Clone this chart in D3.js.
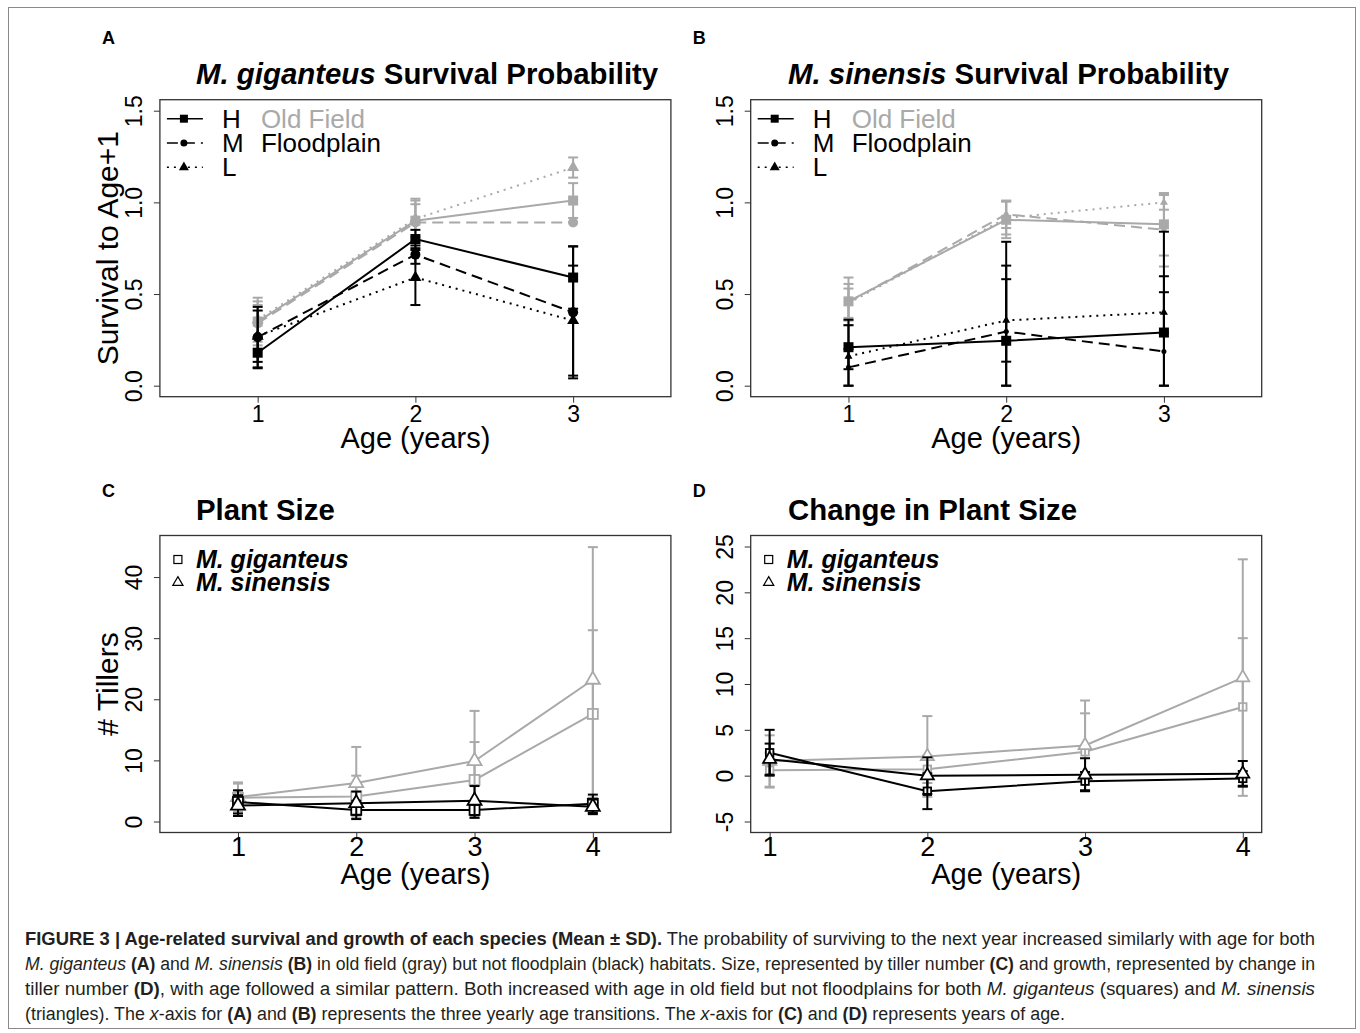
<!DOCTYPE html>
<html>
<head>
<meta charset="utf-8">
<script src="https://cdn.jsdelivr.net/npm/d3@7"></script>
<style>
  body { margin: 0; background: #fff; }
  svg text { font-family: "Liberation Sans", Arial, sans-serif; }
</style>
</head>
<body>
<svg id="fig" width="1360" height="1033"></svg>
<script>
// ---- data ----
const transitions = [1, 2, 3]          // panels A, B: yearly age transitions
const years = [1, 2, 3, 4]             // panels C, D: years of age
const densities = ["H", "M", "L"]

// A: M. giganteus survival, rows = H, M, L
const gigOldMean = [[0.35, 0.90, 1.01], [0.34, 0.89, 0.89], [0.36, 0.91, 1.19]]
const gigOldSd   = [[0.13, 0.12, 0.095], [0.10, 0.10, 0], [0.10, 0.10, 0.055]]
const gigFloodMean = [[0.18, 0.80, 0.59], [0.265, 0.715, 0.40], [0.27, 0.59, 0.355]]
const gigFloodSd   = [[0.085, 0.05, 0.17], [0.165, 0.05, 0.36], [0.14, 0.15, 0.30]]

// B: M. sinensis survival
const sinOldMean = [[0.46, 0.905, 0.88], [0.455, 0.935, 0.85], [0.45, 0.915, 1.0]]
const sinOldSd   = [[0.13, 0.10, 0.17], [0.10, 0.075, 0.20], [0.08, 0.09, 0.04]]
const sinFloodMean = [[0.21, 0.245, 0.29], [0.10, 0.295, 0.187], [0.16, 0.356, 0.40]]
const sinFloodSd   = [[0.12, 0.54, 0.55], [0.10, 0.36, 0.41], [0.20, 0.225, 0.11]]

// C: number of tillers
const tillGigOld = [3.9, 4.1, 6.8, 17.6], tillGigOldSd = [2.3, 3.4, 6.2, 13.7]
const tillSinOld = [4.0, 6.3, 9.9, 23.2], tillSinOldSd = [2.4, 5.9, 8.2, 21.7]
const tillGigFlood = [3.2, 1.9, 1.9, 2.9], tillGigFloodSd = [1.9, 1.5, 1.3, 1.5]
const tillSinFlood = [2.6, 3.0, 3.4, 2.4], tillSinFloodSd = [1.7, 1.9, 2.4, 1.2]

// D: change in number of tillers
const chgGigOld = [0.6, 0.7, 2.6, 7.5], chgGigOldSd = [1.9, 1.5, 4.2, 7.5]
const chgSinOld = [1.6, 2.1, 3.3, 10.7], chgSinOldSd = [2.8, 4.4, 4.9, 12.9]
const chgGigFlood = [2.5, -1.7, -0.6, -0.3], chgGigFloodSd = [2.5, 1.95, 1.0, 0.8]
const chgSinFlood = [1.8, 0.0, 0.1, 0.2], chgSinFloodSd = [1.7, 2.0, 1.8, 1.4]

const survTicks = [0, 0.5, 1, 1.5]
const tillTicks = [0, 10, 20, 30, 40]
const chgTicks = [-5, 0, 5, 10, 15, 20, 25]

const GRAY = "#a9a9a9", BLACK = "#000"
const dashFor = { H: null, M: "11,6", L: "2,5" }

const svg = d3.select("#fig")
svg.append("rect").attr("x", 8.5).attr("y", 7.5).attr("width", 1347).attr("height", 1021)
  .attr("fill", "none").attr("stroke", "#8a8a8a")

// R style 4% padding
const pad = (lo, hi) => [lo - 0.04 * (hi - lo), hi + 0.04 * (hi - lo)]

const W = 511, H = 297

function frame(p) {
  const x = d3.scaleLinear().domain(pad(...p.xlim)).range([p.left, p.left + W])
  const y = d3.scaleLinear().domain(pad(...p.ylim)).range([p.top + H, p.top])
  const g = svg.append("g")

  g.append("g").attr("transform", `translate(0,${p.top + H})`)
    .call(d3.axisBottom(x).tickValues(p.xTicks).tickSize(6).tickPadding(p.xPad).tickFormat(d => String(d)))
    .call(a => a.select(".domain").remove())
    .call(a => a.selectAll("text").attr("font-size", p.xFont).attr("font-family", null).attr("fill", "#000"))
    .call(a => a.selectAll("line").attr("stroke", "#333"))

  g.append("g").attr("transform", `translate(${p.left},0)`)
    .call(d3.axisLeft(y).tickValues(p.yTicks).tickSize(6).tickFormat(p.yFmt))
    .call(a => a.select(".domain").remove())
    .call(a => a.selectAll("line").attr("stroke", "#333"))
    .call(a => a.selectAll("text").attr("x", null).attr("dy", null)
      .attr("font-size", 23).attr("font-family", null).attr("fill", "#000")
      .attr("text-anchor", "middle").attr("transform", `translate(-18,0) rotate(-90)`))

  g.append("rect").attr("x", p.left).attr("y", p.top).attr("width", W).attr("height", H)
    .attr("fill", "none").attr("stroke", "#333").attr("stroke-width", 1.3)

  g.append("text").attr("x", p.left + W / 2).attr("y", p.top + H + 51)
    .attr("text-anchor", "middle").attr("font-size", 29).text("Age (years)")
  if (p.ylab) {
    g.append("text").attr("transform", `translate(${p.left - 42},${p.top + H / 2}) rotate(-90)`)
      .attr("text-anchor", "middle").attr("font-size", 30).text(p.ylab)
  }

  const t = g.append("text").attr("x", p.titleX).attr("y", p.top - 16)
    .attr("font-size", 29.4).attr("font-weight", "bold")
  if (p.titleItalic) t.append("tspan").attr("font-style", "italic").text(p.titleItalic + " ")
  t.append("tspan").text(p.title)

  g.append("text").attr("x", p.left - 58).attr("y", p.top - p.letterUp)
    .attr("font-size", 18).attr("font-weight", "bold").text(p.letter)
  return { x, y, g }
}

function marker(g, kind, cx, cy, size, color, filled) {
  const fill = filled ? color : "#fff"
  const sw = filled ? 0 : 1.8
  if (kind === "square") {
    g.append("rect").attr("x", cx - size / 2).attr("y", cy - size / 2)
      .attr("width", size).attr("height", size)
      .attr("fill", fill).attr("stroke", color).attr("stroke-width", sw)
  } else if (kind === "circle") {
    g.append("circle").attr("cx", cx).attr("cy", cy).attr("r", size / 2).attr("fill", fill)
  } else {
    const area = Math.sqrt(3) / 4 * size * size
    g.append("path").attr("d", d3.symbol(d3.symbolTriangle).size(area)())
      .attr("transform", `translate(${cx},${cy})`)
      .attr("fill", fill).attr("stroke", color).attr("stroke-width", sw)
  }
}

function series(f, xs, mean, sd, opt) {
  const { x, y, g } = f
  const pts = xs.map((v, i) => [x(v), y(mean[i])])
  g.append("path").attr("d", d3.line()(pts)).attr("fill", "none")
    .attr("stroke", opt.color).attr("stroke-width", 2)
    .attr("stroke-dasharray", opt.dash)
  xs.forEach((v, i) => {
    if (!sd[i]) return
    const lo = Math.max(opt.floor ?? -Infinity, mean[i] - sd[i]), hi = mean[i] + sd[i]
    const cx = x(v)
    g.append("line").attr("x1", cx).attr("x2", cx).attr("y1", y(lo)).attr("y2", y(hi))
      .attr("stroke", opt.color).attr("stroke-width", 2)
    for (const e of [lo, hi]) {
      g.append("line").attr("x1", cx - 5).attr("x2", cx + 5).attr("y1", y(e)).attr("y2", y(e))
        .attr("stroke", opt.color).attr("stroke-width", 2)
    }
  })
  pts.forEach(([px, py]) => marker(g, opt.shape, px, py, opt.size, opt.color, opt.filled))
}

// ---- survival panels ----
const shapes = ["square", "circle", "triangle"]
function survival(p, oldMean, oldSd, floodMean, floodSd, sizes) {
  const f = frame(p)
  const groups = [[oldMean, oldSd, GRAY], [floodMean, floodSd, BLACK]]
  groups.forEach(([m, s, col]) => densities.forEach((d, k) =>
    series(f, transitions, m[k], s[k], { color: col, dash: dashFor[d], shape: shapes[k], size: sizes[k], filled: true, floor: 0 })))

  // legend
  const lg = f.g.append("g")
  densities.forEach((d, k) => {
    const cy = p.top + 19 + k * 24.3
    lg.append("line").attr("x1", p.left + 7).attr("x2", p.left + 43).attr("y1", cy).attr("y2", cy)
      .attr("stroke", BLACK).attr("stroke-width", 1.5).attr("stroke-dasharray", dashFor[d])
    marker(lg, shapes[k], p.left + 24, cy, [8, 7, 10][k], BLACK, true)
    lg.append("text").attr("x", p.left + 62).attr("y", cy + 9).attr("font-size", 26).text(d)
  })
  lg.append("text").attr("x", p.left + 101).attr("y", p.top + 28).attr("font-size", 26).attr("fill", GRAY).text("Old Field")
  lg.append("text").attr("x", p.left + 101).attr("y", p.top + 52.3).attr("font-size", 26).attr("fill", BLACK).text("Floodplain")
}

const rowA = { top: 99.7, xlim: [0.5, 3.5], ylim: [0, 1.5], xTicks: transitions, yTicks: survTicks,
  yFmt: d3.format(".1f"), xFont: 23, xPad: 3, letterUp: 56 }
survival({ ...rowA, letter: "A", left: 159.9, ylab: "Survival to Age+1",
  titleX: 196, titleItalic: "M. giganteus", title: "Survival Probability" },
  gigOldMean, gigOldSd, gigFloodMean, gigFloodSd, [10, 10, 12])

survival({ ...rowA, letter: "B", left: 750.7,
  titleX: 788, titleItalic: "M. sinensis", title: "Survival Probability" },
  sinOldMean, sinOldSd, sinFloodMean, sinFloodSd, [10, 5, 8])

// ---- tiller panels ----
function tillers(p, gOld, gOldSd, sOld, sOldSd, gFl, gFlSd, sFl, sFlSd, sq, tri) {
  const f = frame(p)
  series(f, years, gOld, gOldSd, { color: GRAY, shape: "square", size: sq, filled: false })
  series(f, years, sOld, sOldSd, { color: GRAY, shape: "triangle", size: tri, filled: false })
  series(f, years, gFl, gFlSd, { color: BLACK, shape: "square", size: sq, filled: false })
  series(f, years, sFl, sFlSd, { color: BLACK, shape: "triangle", size: tri, filled: false })

  const lg = f.g.append("g")
  const names = ["M. giganteus", "M. sinensis"]
  names.forEach((n, k) => {
    const cy = p.top + 24 + k * 23
    const sx = p.left + 18
    if (k === 0) {
      lg.append("rect").attr("x", sx - 4).attr("y", cy - 4).attr("width", 8).attr("height", 8)
        .attr("fill", "none").attr("stroke", BLACK).attr("stroke-width", 1.2)
    } else {
      lg.append("path").attr("d", d3.symbol(d3.symbolTriangle).size(45)())
        .attr("transform", `translate(${sx},${cy})`).attr("fill", "none").attr("stroke", BLACK).attr("stroke-width", 1.2)
    }
    lg.append("text").attr("x", p.left + 36).attr("y", cy + 8).attr("font-size", 25)
      .attr("font-weight", "bold").attr("font-style", "italic").text(n)
  })
}

const rowC = { top: 535.5, xTicks: years, yFmt: d => String(d), xFont: 27, xPad: -2, letterUp: 39 }
tillers({ ...rowC, letter: "C", left: 159.9, xlim: [0.5, 4.5], ylim: [0, 45],
  yTicks: tillTicks, ylab: "# Tillers", titleX: 196, title: "Plant Size" },
  tillGigOld, tillGigOldSd, tillSinOld, tillSinOldSd, tillGigFlood, tillGigFloodSd, tillSinFlood, tillSinFloodSd, 10, 14)

tillers({ ...rowC, letter: "D", left: 750.7, xlim: [1, 4], ylim: [-5, 25],
  yTicks: chgTicks, titleX: 788, title: "Change in Plant Size" },
  chgGigOld, chgGigOldSd, chgSinOld, chgSinOldSd, chgGigFlood, chgGigFloodSd, chgSinFlood, chgSinFloodSd, 7.5, 13)

// ---- caption ----
const captionLines = [
  [["FIGURE 3 | Age-related survival and growth of each species (Mean \u00b1 SD).", "b"], [" The probability of surviving to the next year increased similarly with age for both", ""]],
  [["M. giganteus", "i"], [" ", ""], ["(A)", "b"], [" and ", ""], ["M. sinensis", "i"], [" ", ""], ["(B)", "b"], [" in old field (gray) but not floodplain (black) habitats. Size, represented by tiller number ", ""], ["(C)", "b"], [" and growth, represented by change in", ""]],
  [["tiller number ", ""], ["(D)", "b"], [", with age followed a similar pattern. Both increased with age in old field but not floodplains for both ", ""], ["M. giganteus", "i"], [" (squares) and ", ""], ["M. sinensis", "i"]],
  [["(triangles). The ", ""], ["x", "i"], ["-axis for ", ""], ["(A)", "b"], [" and ", ""], ["(B)", "b"], [" represents the three yearly age transitions. The ", ""], ["x", "i"], ["-axis for ", ""], ["(C)", "b"], [" and ", ""], ["(D)", "b"], [" represents years of age.", ""]]
]
// printed widths of the caption lines (first three are justified)
const captionWidths = [1290, 1290, 1290, 1040]
const cap = svg.append("g")
captionLines.forEach((segs, i) => {
  const t = cap.append("text").attr("x", 25).attr("y", 945 + i * 25).attr("font-size", 18).attr("fill", "#231f20")
  segs.forEach(([s, st]) => t.append("tspan")
    .attr("font-weight", st === "b" ? "bold" : null)
    .attr("font-style", st === "i" ? "italic" : null).text(s))
  // condensed face: squeeze glyphs horizontally to the printed line width
  t.attr("textLength", captionWidths[i]).attr("lengthAdjust", "spacingAndGlyphs")
})
</script>
</body>
</html>
